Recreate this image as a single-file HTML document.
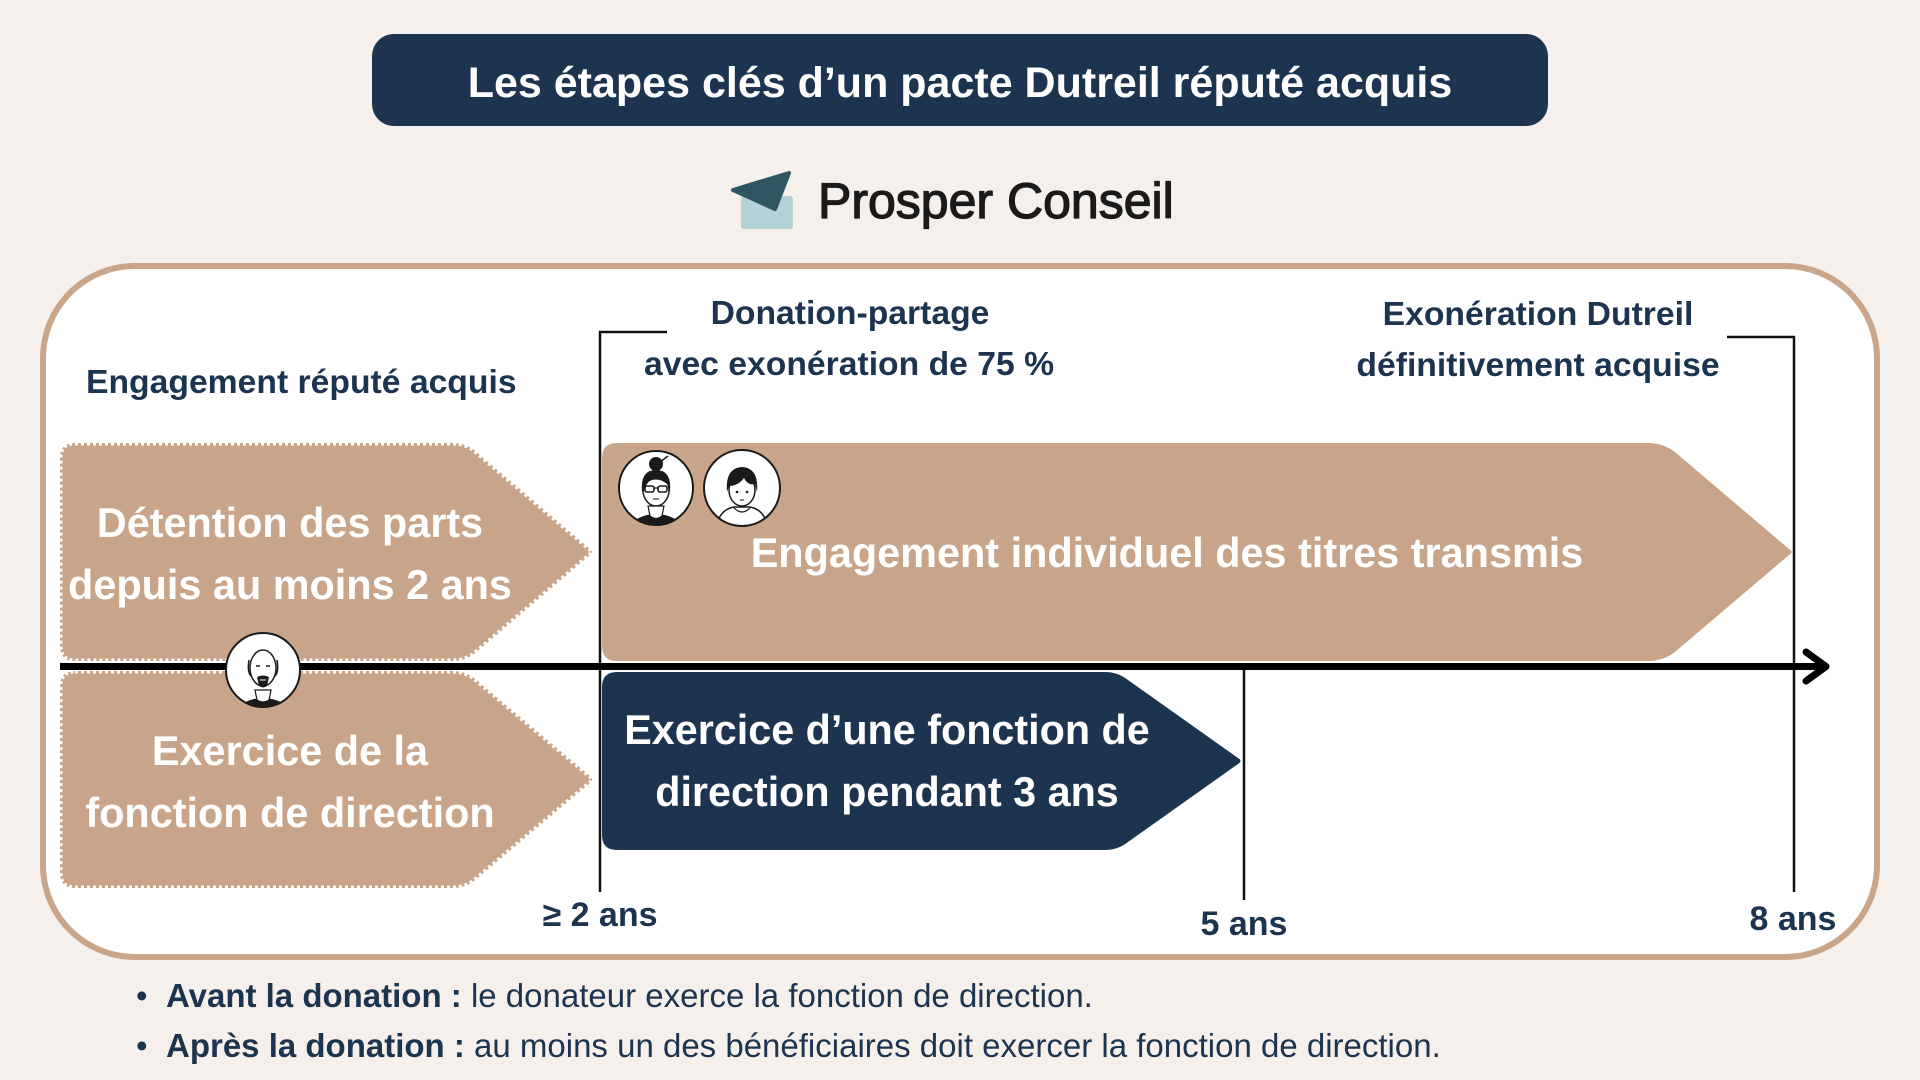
<!DOCTYPE html>
<html>
<head>
<meta charset="utf-8">
<style>
html,body{margin:0;padding:0;background:#f5f0eb;}
svg{display:block;}
text{font-family:"Liberation Sans",Arial,sans-serif;}
</style>
</head>
<body>
<svg width="1920" height="1080" viewBox="0 0 1920 1080" xmlns="http://www.w3.org/2000/svg">
  <rect x="0" y="0" width="1920" height="1080" fill="#f5f0eb"/>

  <!-- Title -->
  <rect x="372" y="34" width="1176" height="92" rx="22" fill="#1c3450"/>
  <text x="960" y="97" font-size="43" font-weight="bold" fill="#ffffff" text-anchor="middle">Les étapes clés d’un pacte Dutreil réputé acquis</text>

  <!-- Logo -->
  <rect x="741" y="196" width="52" height="33" rx="3" fill="#b2d2d7"/>
  <polygon points="733,190 789,173 775,209" fill="#2e5661" stroke="#2e5661" stroke-width="4" stroke-linejoin="round"/>
  <text x="818" y="218" font-size="50" fill="#1a1a1a" stroke="#1a1a1a" stroke-width="1.3">Prosper Conseil</text>

  <!-- Panel -->
  <rect x="43" y="266" width="1834" height="691" rx="92" fill="#ffffff" stroke="#c9a58a" stroke-width="6"/>

  <!-- Labels -->
  <text x="86" y="393" font-size="33.7" font-weight="bold" fill="#1c3450">Engagement réputé acquis</text>
  <text x="850" y="324" font-size="33.7" font-weight="bold" fill="#1c3450" text-anchor="middle">Donation-partage</text>
  <text x="849" y="375" font-size="33.7" font-weight="bold" fill="#1c3450" text-anchor="middle">avec exonération de 75 %</text>
  <text x="1538" y="325" font-size="33.7" font-weight="bold" fill="#1c3450" text-anchor="middle">Exonération Dutreil</text>
  <text x="1538" y="376" font-size="33.7" font-weight="bold" fill="#1c3450" text-anchor="middle">définitivement acquise</text>

  <!-- Left dotted arrows -->
  <path d="M75,443 H452 Q465,443 474,450 L590,549 Q594,552 590,555 L474,654 Q465,661 452,661 H75 Q60,661 60,646 V458 Q60,443 75,443 Z" fill="#c8a58a"/>
  <path d="M75,443 H452 Q465,443 474,450 L590,549 Q594,552 590,555 L474,654 Q465,661 452,661 H75 Q60,661 60,646 V458 Q60,443 75,443 Z" fill="none" stroke="#ffffff" stroke-width="5" stroke-dasharray="3 3"/>
  <path d="M75,671 H452 Q465,671 474,678 L590,776 Q594,779.5 590,783 L474,881 Q465,888 452,888 H75 Q60,888 60,873 V686 Q60,671 75,671 Z" fill="#c8a58a"/>
  <path d="M75,671 H452 Q465,671 474,678 L590,776 Q594,779.5 590,783 L474,881 Q465,888 452,888 H75 Q60,888 60,873 V686 Q60,671 75,671 Z" fill="none" stroke="#ffffff" stroke-width="5" stroke-dasharray="3 3"/>

  <text x="290" y="537" font-size="41.4" font-weight="bold" fill="#ffffff" text-anchor="middle">Détention des parts</text>
  <text x="290" y="599" font-size="41.4" font-weight="bold" fill="#ffffff" text-anchor="middle">depuis au moins 2 ans</text>
  <text x="290" y="765" font-size="41.4" font-weight="bold" fill="#ffffff" text-anchor="middle">Exercice de la</text>
  <text x="290" y="827" font-size="41.4" font-weight="bold" fill="#ffffff" text-anchor="middle">fonction de direction</text>

  <!-- Big tan arrow -->
  <path d="M617,443 H1648 Q1663,443 1675,452 L1789,549 Q1794,552 1789,555 L1675,652 Q1663,661 1648,661 H617 Q602,661 602,646 V458 Q602,443 617,443 Z" fill="#c8a58a"/>
  <text x="1167" y="567" font-size="41.4" font-weight="bold" fill="#ffffff" text-anchor="middle">Engagement individuel des titres transmis</text>

  <!-- Dark arrow -->
  <path d="M617,672 H1105 Q1118,672 1128,680 L1238,758 Q1243,761 1238,764 L1128,842 Q1118,850 1105,850 H617 Q602,850 602,835 V687 Q602,672 617,672 Z" fill="#1d3451"/>
  <text x="887" y="744" font-size="41.3" font-weight="bold" fill="#ffffff" text-anchor="middle">Exercice d’une fonction de</text>
  <text x="887" y="806" font-size="41.3" font-weight="bold" fill="#ffffff" text-anchor="middle">direction pendant 3 ans</text>

  <!-- Bracket / tick lines -->
  <polyline points="667,332 600,332 600,892" fill="none" stroke="#111" stroke-width="2.5"/>
  <polyline points="1727,337 1794,337 1794,892" fill="none" stroke="#111" stroke-width="2.5"/>
  <line x1="1244" y1="668" x2="1244" y2="900" stroke="#111" stroke-width="2.5"/>

  <!-- Timeline -->
  <line x1="60" y1="666.5" x2="1826" y2="666.5" stroke="#000" stroke-width="7"/>
  <polyline points="1806,652 1826,666.5 1806,681" fill="none" stroke="#000" stroke-width="7" stroke-linecap="round" stroke-linejoin="round"/>

  <!-- Time labels -->
  <text x="600" y="926" font-size="34" font-weight="bold" fill="#1c3450" text-anchor="middle">≥ 2 ans</text>
  <text x="1244" y="935" font-size="34" font-weight="bold" fill="#1c3450" text-anchor="middle">5 ans</text>
  <text x="1793" y="930" font-size="34" font-weight="bold" fill="#1c3450" text-anchor="middle">8 ans</text>

  <defs>
    <clipPath id="c1"><circle cx="656" cy="488" r="37"/></clipPath>
    <clipPath id="c2"><circle cx="742" cy="488" r="38"/></clipPath>
    <clipPath id="c3"><circle cx="263" cy="670" r="37"/></clipPath>
  </defs>

  <!-- Avatar woman -->
  <circle cx="656" cy="488" r="37" fill="#fff"/>
  <g clip-path="url(#c1)">
    <ellipse cx="656" cy="530" rx="26" ry="16" fill="#1a1a1a"/>
    <path d="M648,506 L664,506 L662,516 Q656,521 650,516 Z" fill="#fff" stroke="#1a1a1a" stroke-width="1.2"/>
    <ellipse cx="656" cy="490" rx="13" ry="16" fill="#fff" stroke="#1a1a1a" stroke-width="1.5"/>
    <path d="M642,492 Q640,470 656,470 Q672,470 670,492 L667,484 Q660,478 652,480 Q646,482 645,490 Z" fill="#1a1a1a"/>
    <circle cx="656" cy="464" r="7" fill="#1a1a1a"/>
    <line x1="660" y1="462" x2="668" y2="456" stroke="#1a1a1a" stroke-width="1.5"/>
    <rect x="645" y="486" width="9" height="6" rx="2" fill="none" stroke="#1a1a1a" stroke-width="1.6"/>
    <rect x="658" y="486" width="9" height="6" rx="2" fill="none" stroke="#1a1a1a" stroke-width="1.6"/>
    <line x1="654" y1="488" x2="658" y2="488" stroke="#1a1a1a" stroke-width="1.2"/>
    <line x1="653" y1="499" x2="659" y2="499" stroke="#1a1a1a" stroke-width="1"/>
  </g>
  <circle cx="656" cy="488" r="37" fill="none" stroke="#1a1a1a" stroke-width="2"/>

  <!-- Avatar young man -->
  <circle cx="742" cy="488" r="38" fill="#fff"/>
  <g clip-path="url(#c2)">
    <path d="M716,530 Q718,510 734,507 L750,507 Q766,510 768,530 Z" fill="#fff" stroke="#1a1a1a" stroke-width="1.5"/>
    <path d="M734,508 Q742,516 750,508" fill="none" stroke="#1a1a1a" stroke-width="1.2"/>
    <ellipse cx="742" cy="490" rx="13" ry="16" fill="#fff" stroke="#1a1a1a" stroke-width="1.5"/>
    <path d="M727,492 Q725,468 742,467 Q759,468 757,492 L755,484 Q748,486 744,478 Q738,486 729,486 Z" fill="#1a1a1a"/>
    <circle cx="737" cy="492" r="1.3" fill="#1a1a1a"/>
    <circle cx="747" cy="492" r="1.3" fill="#1a1a1a"/>
    <line x1="740" y1="500" x2="744" y2="500" stroke="#1a1a1a" stroke-width="1"/>
  </g>
  <circle cx="742" cy="488" r="38" fill="none" stroke="#1a1a1a" stroke-width="2"/>

  <!-- Avatar old man -->
  <circle cx="263" cy="670" r="37" fill="#fff"/>
  <g clip-path="url(#c3)">
    <ellipse cx="263" cy="712" rx="25" ry="14" fill="#1a1a1a"/>
    <path d="M255,690 L271,690 L269,700 Q263,704 257,700 Z" fill="#fff" stroke="#1a1a1a" stroke-width="1.2"/>
    <ellipse cx="263" cy="668" rx="13" ry="18" fill="#fff" stroke="#1a1a1a" stroke-width="1.5"/>
    <path d="M249,660 Q247,672 251,676" fill="none" stroke="#1a1a1a" stroke-width="1.5"/>
    <path d="M277,660 Q279,672 275,676" fill="none" stroke="#1a1a1a" stroke-width="1.5"/>
    <line x1="256" y1="666" x2="260" y2="666" stroke="#1a1a1a" stroke-width="1.6"/>
    <line x1="266" y1="666" x2="270" y2="666" stroke="#1a1a1a" stroke-width="1.6"/>
    <path d="M257,677 Q263,674 269,677 L267,686 Q263,689 259,686 Z" fill="#1a1a1a"/>
    <line x1="260" y1="680" x2="266" y2="680" stroke="#fff" stroke-width="1"/>
  </g>
  <circle cx="263" cy="670" r="37" fill="none" stroke="#1a1a1a" stroke-width="2"/>

  <!-- Bullets -->
  <text x="136" y="1007" font-size="33" fill="#1c3450">•</text>
  <text x="166" y="1007" font-size="33" fill="#1c3450"><tspan font-weight="bold">Avant la donation :</tspan> le donateur exerce la fonction de direction.</text>
  <text x="136" y="1057" font-size="33" fill="#1c3450">•</text>
  <text x="166" y="1057" font-size="33" fill="#1c3450"><tspan font-weight="bold">Après la donation :</tspan> au moins un des bénéficiaires doit exercer la fonction de direction.</text>
</svg>
</body>
</html>
